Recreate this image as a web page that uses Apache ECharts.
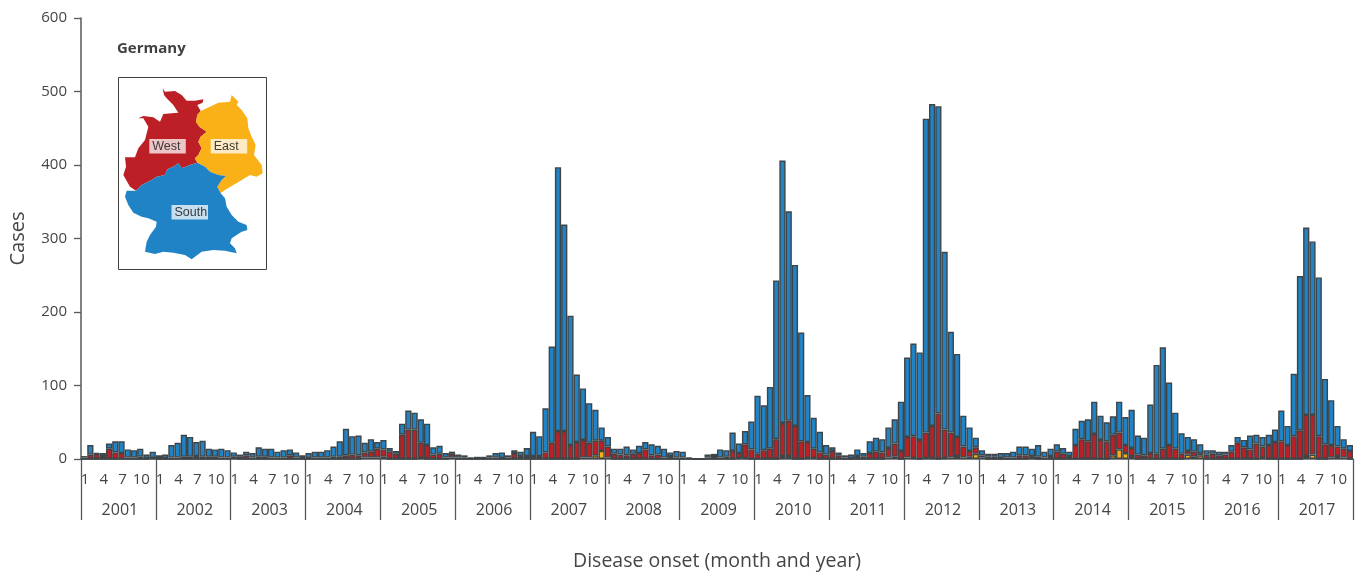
<!DOCTYPE html>
<html><head><meta charset="utf-8">
<style>html,body{margin:0;padding:0;background:#fff}#c{width:1358px;height:572px}</style>
<script src="https://cdn.jsdelivr.net/npm/echarts@6/dist/echarts.min.js"></script>
</head><body><div id="c"></div>
<script>
const years = ['2001','2002','2003','2004','2005','2006','2007','2008','2009','2010','2011','2012','2013','2014','2015','2016','2017'];
const months = ['1','2','3','4','5','6','7','8','9','10','11','12'];
const yTicks = [0,100,200,300,400,500,600];
const east = [
0,0,0,0,0,0,0,0,0,0,0,1,
0,0,0,0,0,0,0,0,0,0,0,0,
1,0,0,0,0,0,0,0,0,0,0,0,
0,0,0,0,0,0,0,0,0,2,2,2,
3,0,0,0,0,0,1,0,0,0,0,2,
0,0,0,0,0,0,0,0,0,0,0,0,
0,0,0,0,0,0,0,0,2,2,5,11,
2,0,0,0,0,0,0,0,0,0,0,0,
0,0,0,0,0,0,0,0,0,1,1,0,
0,0,0,0,4,4,0,0,1,1,0,0,
0,0,0,0,0,0,0,0,0,2,3,0,
2,1,0,1,1,0,1,2,4,2,3,7,
2,0,0,0,0,0,0,0,1,0,0,0,
0,0,0,0,0,0,0,0,0,5,13,8,
4,0,0,0,0,0,0,0,0,6,3,5,
0,0,0,0,0,0,0,0,0,1,0,0,
0,0,0,0,4,6,0,0,2,4,2,0];
const west = [
2,6,7,4,14,9,8,2,2,3,1,0,
1,1,2,2,3,3,4,3,3,3,2,2,
2,3,5,2,3,3,2,2,2,5,2,1,
1,2,2,2,3,3,5,6,5,7,8,12,
10,10,7,33,40,40,21,19,6,7,2,5,
2,2,1,1,1,2,2,1,2,8,4,4,
4,4,9,22,38,38,19,23,24,20,20,14,
15,7,6,5,7,8,13,5,6,2,4,2,
2,1,0,0,2,4,2,3,11,7,19,13,
7,12,14,27,45,48,45,24,22,13,9,6,
11,5,2,1,4,3,8,10,9,13,18,11,
28,30,26,35,44,62,39,34,26,15,8,9,
3,3,3,1,2,2,5,5,3,3,2,4,
10,7,4,19,27,24,34,26,24,28,23,11,
11,6,5,8,7,14,19,14,7,5,7,3,
6,7,5,6,10,22,16,13,21,16,19,23,
24,19,31,39,56,54,31,20,17,13,12,11];
const south = [
2,13,1,4,7,15,16,11,10,11,5,9,
4,5,17,20,30,27,19,22,11,10,12,10,
6,3,5,6,13,11,12,8,10,8,7,4,
7,8,8,10,14,21,36,25,27,13,17,9,
13,5,4,15,26,23,32,29,10,11,6,3,
4,3,1,2,2,3,6,8,3,4,6,11,
33,27,60,131,359,281,176,92,70,54,42,18,
13,7,8,12,6,10,10,15,12,12,5,9,
8,1,1,1,4,3,11,9,25,13,18,38,
79,61,84,216,357,285,219,148,64,42,28,13,
5,4,3,5,9,5,16,19,18,28,33,67,
108,126,119,427,438,418,242,137,113,42,32,13,
7,4,4,7,6,8,12,12,10,16,8,10,
10,8,6,22,25,30,44,33,26,25,42,38,
52,26,24,66,121,138,85,49,28,19,17,12,
6,5,5,4,9,8,10,19,12,13,14,17,
42,26,85,210,255,236,216,89,61,28,13,8];

// inset map outlines, in a 3x local frame
const mapWest = [[158,175],[165,185],[195,183],[215,195],[230,212],[255,212],[280,208],[278,218],[262,225],[272,243],[262,255],[258,275],[268,290],[290,305],[272,320],[265,335],[275,355],[265,375],[255,385],[262,398],[240,405],[215,415],[205,400],[190,410],[172,418],[165,435],[140,440],[125,450],[95,465],[78,482],[60,470],[40,435],[48,410],[45,382],[75,382],[85,355],[105,330],[115,290],[100,265],[85,265],[100,258],[130,262],[150,275],[160,252],[185,250],[205,248],[190,225],[170,205],[162,195]];
const mapEast = [[262,255],[272,243],[300,230],[325,218],[360,215],[365,195],[375,205],[385,215],[380,225],[395,240],[412,265],[415,295],[425,320],[437,345],[432,375],[455,405],[458,430],[440,440],[420,435],[395,450],[370,465],[345,480],[332,490],[322,470],[335,450],[348,438],[325,435],[300,425],[285,410],[262,398],[255,385],[265,375],[275,355],[265,335],[272,320],[290,305],[268,290],[258,275]];
const mapSouth = [[262,398],[285,410],[300,425],[325,435],[348,438],[335,450],[322,470],[332,490],[345,505],[350,530],[365,555],[385,575],[410,585],[412,600],[395,605],[365,625],[360,640],[375,655],[380,670],[345,662],[310,660],[275,665],[245,688],[225,675],[190,668],[160,665],[135,672],[105,665],[110,635],[120,615],[138,590],[140,575],[115,565],[95,560],[70,548],[55,525],[45,500],[50,482],[78,482],[95,465],[125,450],[140,440],[165,435],[172,418],[190,410],[205,400],[215,415],[240,405]];

const BLUE='#1f83c6', RED='#bd1f26', YEL='#fab017', EDGE='#3f4447', TXT='#454545', AX='#555a5e', FONT='"Open Sans",sans-serif';
const monthCats = years.flatMap(y => months.map(m => y+'-'+m));
const bar = (name,data,color) => ({name,type:'bar',stack:'c',data,barWidth:'100%',barGap:0,barCategoryGap:0,xAxisIndex:0,yAxisIndex:0,
  itemStyle:{color,borderColor:EDGE,borderWidth:1.4},animation:false});
const poly = (points,fill) => ({type:'polygon',shape:{points},style:{fill}});
const tag = (text,x,y) => ({type:'group',children:[
  {type:'rect',shape:{x,y,width:36.5,height:14.5},style:{fill:'rgba(255,255,255,0.74)'}},
  {type:'text',x:x+3,y:y+7.5,style:{text,fill:'#3a3a3a',font:'12.5px "Liberation Sans",Arial,sans-serif',textAlign:'left',textVerticalAlign:'middle'}}]});

const chart = echarts.init(document.getElementById('c'),null,{renderer:'canvas'});
chart.setOption({
  animation:false,backgroundColor:'#fff',
  textStyle:{fontFamily:FONT},
  grid:{left:81,right:5,top:18,bottom:113,containLabel:false,outerBoundsMode:'none'},
  xAxis:[
    {type:'category',data:monthCats,position:'bottom',boundaryGap:true,
     axisLine:{show:true,lineStyle:{color:AX,width:1.5}},axisTick:{show:false},
     axisLabel:{interval:2,hideOverlap:false,margin:13,padding:[0,0,0,2],color:TXT,fontSize:15,fontFamily:FONT,formatter:v=>v.split('-')[1]},
     splitLine:{show:false}},
    {type:'category',data:years,position:'bottom',boundaryGap:true,
     axisLine:{show:false},axisTick:{show:true,length:61,alignWithLabel:false,interval:0,lineStyle:{color:AX,width:1.3}},
     axisLabel:{interval:0,margin:43,padding:[0,0,0,3],color:TXT,fontSize:16,fontFamily:FONT},splitLine:{show:false},
     name:'Disease onset (month and year)',nameLocation:'middle',nameGap:92,
     nameTextStyle:{color:TXT,fontSize:19.5,fontFamily:FONT}}
  ],
  yAxis:{type:'value',min:yTicks[0],max:yTicks[yTicks.length-1],interval:100,
    axisLine:{show:true,lineStyle:{color:AX,width:1.5}},axisTick:{show:true,length:7,lineStyle:{color:AX,width:1.3}},
    axisLabel:{margin:14,color:TXT,fontSize:15,fontFamily:FONT},splitLine:{show:false},
    name:'Cases',nameLocation:'middle',nameGap:53,nameRotate:90,nameTextStyle:{color:TXT,fontSize:20,fontFamily:FONT}},
  series:[bar('East',east,YEL),bar('West',west,RED),bar('South',south,BLUE)],
  graphic:[
    {type:'text',left:117,top:41,style:{text:'Germany',fill:'#404040',font:'bold 15px "Open Sans",sans-serif'}},
    {type:'rect',shape:{x:118.5,y:77.5,width:148,height:192},style:{fill:'#fff',stroke:'#3f3f3f',lineWidth:1}},
    {type:'group',x:110,y:30,scaleX:1/3,scaleY:1/3,children:[poly(mapWest,RED),poly(mapEast,YEL),poly(mapSouth,BLUE)]},
    tag('West',149.3,139),tag('East',210.7,139),tag('South',171.5,205)
  ]
});
</script></body></html>
